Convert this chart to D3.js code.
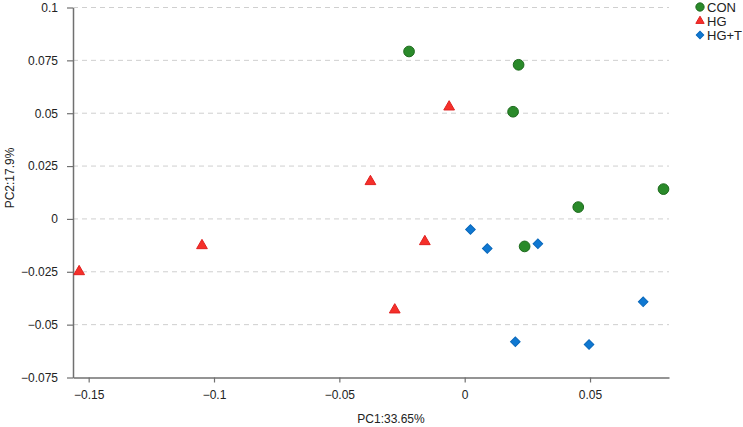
<!DOCTYPE html>
<html>
<head>
<meta charset="utf-8">
<script src="https://cdn.jsdelivr.net/npm/d3@7"></script>
<style>
  body { margin: 0; background: #fff; }
  text { font-family: "Liberation Sans", Arial, sans-serif; }
</style>
</head>
<body>
<div id="chart"></div>
<script>
// ========= Data ========= //
const groups = ['CON', 'HG', 'HG+T'];

const conPoints = [
  [-0.0222, 0.0792], [0.0215, 0.0729], [0.0193, 0.0507],
  [0.0793, 0.0141], [0.0453, 0.0056], [0.0239, -0.0130]
];
const hgPoints = [
  [-0.0062, 0.0530], [-0.0376, 0.0177], [-0.1048, -0.0126],
  [-0.1538, -0.0249], [-0.0159, -0.0107], [-0.0279, -0.0430]
];
const hgtPoints = [
  [0.0023, -0.0050], [0.0090, -0.0140], [0.0292, -0.0117],
  [0.0712, -0.0392], [0.0202, -0.0581], [0.0496, -0.0594]
];

const xTicks = [-0.15, -0.1, -0.05, 0, 0.05];
const yTicks = [0.1, 0.075, 0.05, 0.025, 0, -0.025, -0.05, -0.075];

const xLabel = 'PC1:33.65%';
const yLabel = 'PC2:17.9%';

// ========= Layout ========= //
const width = 743;
const height = 427;
const margin = { top: 7.5, right: 74, bottom: 49.5, left: 73 };

const svg = d3.select('#chart').append('svg')
  .attr('width', width)
  .attr('height', height);

const x = d3.scaleLinear()
  .domain([-0.15625, 0.0815])
  .range([margin.left, width - margin.right]);

const y = d3.scaleLinear()
  .domain([-0.075, 0.1])
  .range([height - margin.bottom, margin.top]);

// diamond = square turned 45 degrees
const styles = {
  'CON': { shape: d3.symbolCircle, size: 90, rotate: 0, fill: '#2a8a2a', stroke: '#1d6a1d' },
  'HG': { shape: d3.symbolTriangle, size: 50, rotate: 0, fill: '#f5302a', stroke: '#e02020' },
  'HG+T': { shape: d3.symbolSquare, size: 46, rotate: 45, fill: '#0f78d2', stroke: '#0a68bb' }
};

// ========= Grid ========= //
svg.append('g')
  .selectAll('line')
  .data(yTicks.filter((d) => d > -0.075))
  .join('line')
  .attr('x1', margin.left)
  .attr('x2', width - margin.right)
  .attr('y1', (d) => y(d))
  .attr('y2', (d) => y(d))
  .attr('stroke', '#cfcfcf')
  .attr('stroke-width', 1)
  .attr('stroke-dasharray', '5,4');

// ========= Axes ========= //
const xAxis = svg.append('g')
  .attr('transform', `translate(0,${height - margin.bottom})`)
  .call(d3.axisBottom(x).tickValues(xTicks).tickFormat(d3.format('')).tickSize(5).tickSizeOuter(0));

const yAxis = svg.append('g')
  .attr('transform', `translate(${margin.left},0)`)
  .call(d3.axisLeft(y).tickValues(yTicks).tickFormat(d3.format('')).tickSize(6).tickSizeOuter(0));

[xAxis, yAxis].forEach((g) => {
  g.select('.domain').attr('stroke', '#707070').attr('stroke-width', 1.5);
  g.selectAll('.tick line').attr('stroke', '#707070').attr('stroke-width', 1.2);
  g.selectAll('.tick text')
    .attr('fill', '#222')
    .attr('font-size', 12)
    .attr('font-family', '"Liberation Sans", Arial, sans-serif');
});
xAxis.selectAll('.tick text').attr('dy', '1.15em');
yAxis.selectAll('.tick text').attr('x', -15);

// ========= Axis labels ========= //
svg.append('text')
  .attr('x', 391)
  .attr('y', 423)
  .attr('text-anchor', 'middle')
  .attr('font-size', 12)
  .attr('fill', '#222')
  .text(xLabel);

svg.append('text')
  .attr('transform', 'translate(14,178) rotate(-90)')
  .attr('text-anchor', 'middle')
  .attr('font-size', 12)
  .attr('fill', '#222')
  .text(yLabel);

// ========= Points ========= //
const series = [
  { name: 'CON', points: conPoints },
  { name: 'HG', points: hgPoints },
  { name: 'HG+T', points: hgtPoints }
];

series.forEach((s) => {
  const st = styles[s.name];
  svg.append('g')
    .selectAll('path')
    .data(s.points)
    .join('path')
    .attr('transform', (d) => `translate(${x(d[0])},${y(d[1])}) rotate(${st.rotate})`)
    .attr('d', d3.symbol().type(st.shape).size(st.size))
    .attr('fill', st.fill)
    .attr('stroke', st.stroke)
    .attr('stroke-width', 1);
});

// ========= Legend ========= //
const legend = svg.append('g')
  .attr('transform', 'translate(700,7)');

const items = legend.selectAll('g')
  .data(groups)
  .join('g')
  .attr('transform', (d, i) => `translate(0,${i * 14})`);

items.append('path')
  .attr('transform', (d) => `rotate(${styles[d].rotate})`)
  .attr('d', (d) => d3.symbol().type(styles[d].shape).size(styles[d].size * 0.6)())
  .attr('fill', (d) => styles[d].fill)
  .attr('stroke', (d) => styles[d].stroke);

items.append('text')
  .attr('x', 7)
  .attr('dy', '0.36em')
  .attr('font-size', 13)
  .attr('fill', '#222')
  .text((d) => d);
</script>
</body>
</html>
